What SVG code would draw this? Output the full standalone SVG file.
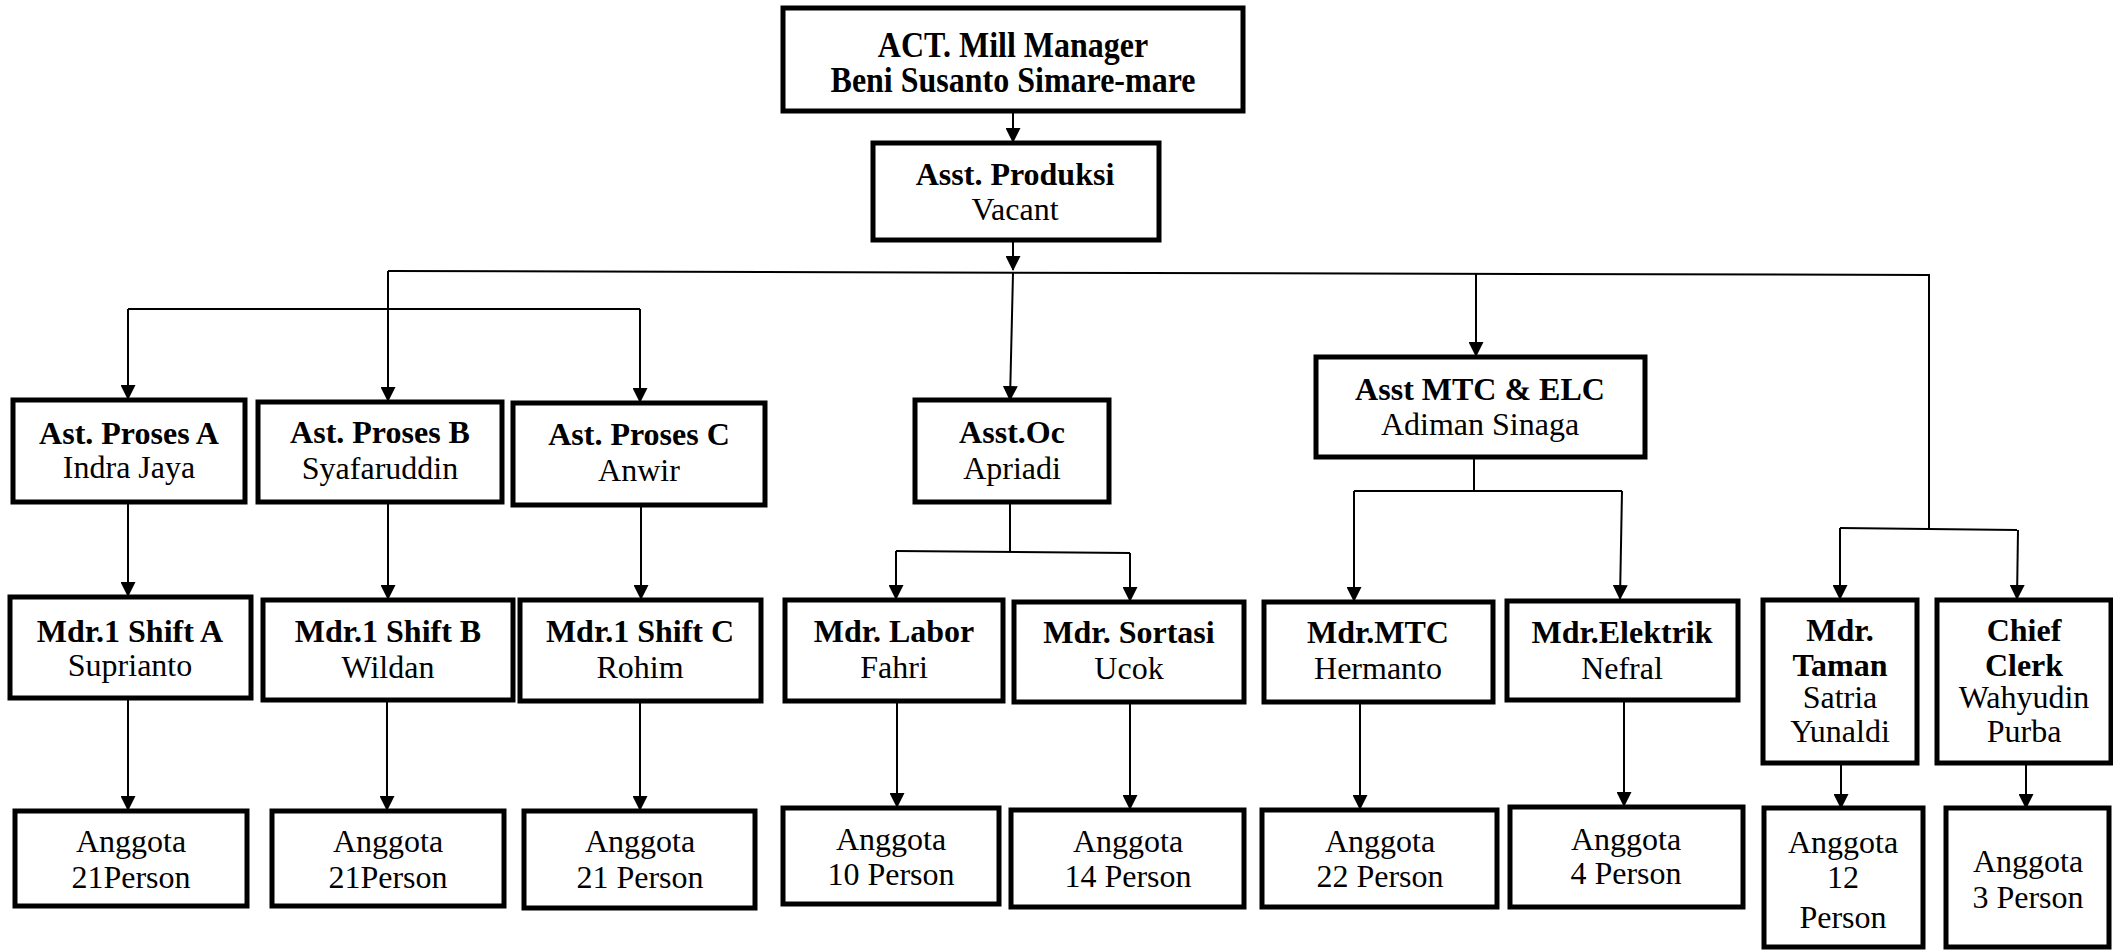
<svg xmlns="http://www.w3.org/2000/svg" width="2113" height="951" viewBox="0 0 2113 951">
<style>
.box{fill:#fff;stroke:#000;stroke-width:5}
.t{font-family:"Liberation Serif","Times New Roman",serif;font-size:32px;text-anchor:middle;fill:#000}
.b{font-weight:bold}
.c{stroke:#000;stroke-width:2;fill:none}
.a{marker-end:url(#arr)}
</style>
<defs>
<marker id="arr" viewBox="0 0 15 15" refX="14" refY="7.5" markerWidth="15" markerHeight="15" markerUnits="userSpaceOnUse" orient="auto">
<path d="M0,0 L15,7.5 L0,15 z" fill="#000"/>
</marker>
</defs>
<rect width="2113" height="951" fill="#fff"/>
<g id="connectors">
<line class="c a" x1="1013" y1="112" x2="1013" y2="142"/>
<line class="c a" x1="1013" y1="240" x2="1013" y2="270"/>
<polyline class="c" points="388,271 1929,275 1929,528"/>
<line class="c a" x1="388" y1="271" x2="388" y2="401"/>
<line class="c" x1="128" y1="309" x2="640" y2="309"/>
<line class="c a" x1="128" y1="309" x2="128" y2="399"/>
<line class="c a" x1="640" y1="309" x2="640" y2="402"/>
<line class="c a" x1="1013" y1="273" x2="1010" y2="400"/>
<line class="c a" x1="1476" y1="274" x2="1476" y2="356"/>
<line class="c" x1="1840" y1="528" x2="2017" y2="530"/>
<line class="c a" x1="1840" y1="528" x2="1840" y2="599"/>
<line class="c a" x1="2018" y1="530" x2="2017" y2="599"/>
<line class="c a" x1="128" y1="503" x2="128" y2="596"/>
<line class="c a" x1="388" y1="503" x2="388" y2="599"/>
<line class="c a" x1="641" y1="505" x2="641" y2="599"/>
<polyline class="c" points="1010,502 1010,552"/>
<line class="c" x1="896" y1="551" x2="1130" y2="553"/>
<line class="c a" x1="896" y1="551" x2="896" y2="599"/>
<line class="c a" x1="1130" y1="553" x2="1130" y2="601"/>
<polyline class="c" points="1474,457 1474,491"/>
<line class="c" x1="1354" y1="491" x2="1622" y2="491"/>
<line class="c a" x1="1354" y1="491" x2="1354" y2="601"/>
<line class="c a" x1="1622" y1="491" x2="1620" y2="599"/>
<line class="c a" x1="128" y1="698" x2="128" y2="810"/>
<line class="c a" x1="387" y1="700" x2="387" y2="810"/>
<line class="c a" x1="640" y1="701" x2="640" y2="810"/>
<line class="c a" x1="897" y1="701" x2="897" y2="807"/>
<line class="c a" x1="1130" y1="702" x2="1130" y2="809"/>
<line class="c a" x1="1360" y1="702" x2="1360" y2="809"/>
<line class="c a" x1="1624" y1="700" x2="1624" y2="806"/>
<line class="c a" x1="1841" y1="763" x2="1841" y2="808"/>
<line class="c a" x1="2026" y1="763" x2="2026" y2="808"/>
</g>
<g id="mill-manager"><rect class="box" x="783" y="8" width="460" height="103"/>
<text class="t b" transform="translate(1013,57) scale(1,1.1)">ACT. Mill Manager</text><text class="t b" transform="translate(1013,92) scale(1,1.1)">Beni Susanto Simare-mare</text></g>
<g id="asst-produksi"><rect class="box" x="873" y="143" width="286" height="97"/>
<text class="t b" x="1015" y="185">Asst. Produksi</text><text class="t" x="1015" y="220">Vacant</text></g>
<g id="ast-proses-a"><rect class="box" x="13" y="400" width="232" height="102"/>
<text class="t b" x="129" y="444">Ast. Proses A</text><text class="t" x="129" y="478">Indra Jaya</text></g>
<g id="ast-proses-b"><rect class="box" x="258" y="402" width="244" height="100"/>
<text class="t b" x="380" y="443">Ast. Proses B</text><text class="t" x="380" y="479">Syafaruddin</text></g>
<g id="ast-proses-c"><rect class="box" x="513" y="403" width="252" height="102"/>
<text class="t b" x="639" y="445">Ast. Proses C</text><text class="t" x="639" y="481">Anwir</text></g>
<g id="asst-oc"><rect class="box" x="915" y="400" width="194" height="102"/>
<text class="t b" x="1012" y="443">Asst.Oc</text><text class="t" x="1012" y="479">Apriadi</text></g>
<g id="asst-mtc-elc"><rect class="box" x="1316" y="357" width="329" height="100"/>
<text class="t b" x="1480" y="400">Asst MTC &amp; ELC</text><text class="t" x="1480" y="435">Adiman Sinaga</text></g>
<g id="mdr-shift-a"><rect class="box" x="10" y="597" width="241" height="101"/>
<text class="t b" x="130" y="642">Mdr.1 Shift A</text><text class="t" x="130" y="676">Suprianto</text></g>
<g id="mdr-shift-b"><rect class="box" x="263" y="600" width="250" height="100"/>
<text class="t b" x="388" y="642">Mdr.1 Shift B</text><text class="t" x="388" y="678">Wildan</text></g>
<g id="mdr-shift-c"><rect class="box" x="520" y="600" width="241" height="101"/>
<text class="t b" x="640" y="642">Mdr.1 Shift C</text><text class="t" x="640" y="678">Rohim</text></g>
<g id="mdr-labor"><rect class="box" x="785" y="600" width="218" height="101"/>
<text class="t b" x="894" y="642">Mdr. Labor</text><text class="t" x="894" y="678">Fahri</text></g>
<g id="mdr-sortasi"><rect class="box" x="1014" y="602" width="230" height="100"/>
<text class="t b" x="1129" y="643">Mdr. Sortasi</text><text class="t" x="1129" y="679">Ucok</text></g>
<g id="mdr-mtc"><rect class="box" x="1264" y="602" width="229" height="100"/>
<text class="t b" x="1378" y="643">Mdr.MTC</text><text class="t" x="1378" y="679">Hermanto</text></g>
<g id="mdr-elektrik"><rect class="box" x="1507" y="601" width="231" height="99"/>
<text class="t b" x="1622" y="643">Mdr.Elektrik</text><text class="t" x="1622" y="679">Nefral</text></g>
<g id="mdr-taman"><rect class="box" x="1763" y="600" width="154" height="163"/>
<text class="t b" x="1840" y="641">Mdr.</text><text class="t b" x="1840" y="676">Taman</text><text class="t" x="1840" y="708">Satria</text><text class="t" x="1840" y="742">Yunaldi</text></g>
<g id="chief-clerk"><rect class="box" x="1937" y="600" width="174" height="163"/>
<text class="t b" x="2024" y="641">Chief</text><text class="t b" x="2024" y="676">Clerk</text><text class="t" x="2024" y="708">Wahyudin</text><text class="t" x="2024" y="742">Purba</text></g>
<g id="anggota-a"><rect class="box" x="15" y="811" width="232" height="95"/>
<text class="t" x="131" y="852">Anggota</text><text class="t" x="131" y="888">21Person</text></g>
<g id="anggota-b"><rect class="box" x="272" y="811" width="232" height="95"/>
<text class="t" x="388" y="852">Anggota</text><text class="t" x="388" y="888">21Person</text></g>
<g id="anggota-c"><rect class="box" x="524" y="811" width="231" height="97"/>
<text class="t" x="640" y="852">Anggota</text><text class="t" x="640" y="888">21 Person</text></g>
<g id="anggota-labor"><rect class="box" x="783" y="808" width="216" height="96"/>
<text class="t" x="891" y="850">Anggota</text><text class="t" x="891" y="885">10 Person</text></g>
<g id="anggota-sortasi"><rect class="box" x="1011" y="810" width="233" height="97"/>
<text class="t" x="1128" y="852">Anggota</text><text class="t" x="1128" y="887">14 Person</text></g>
<g id="anggota-mtc"><rect class="box" x="1262" y="810" width="235" height="97"/>
<text class="t" x="1380" y="852">Anggota</text><text class="t" x="1380" y="887">22 Person</text></g>
<g id="anggota-elektrik"><rect class="box" x="1510" y="807" width="233" height="100"/>
<text class="t" x="1626" y="850">Anggota</text><text class="t" x="1626" y="884">4 Person</text></g>
<g id="anggota-taman"><rect class="box" x="1764" y="808" width="159" height="139"/>
<text class="t" x="1843" y="853">Anggota</text><text class="t" x="1843" y="888">12</text><text class="t" x="1843" y="928">Person</text></g>
<g id="anggota-clerk"><rect class="box" x="1946" y="808" width="163" height="139"/>
<text class="t" x="2028" y="872">Anggota</text><text class="t" x="2028" y="908">3 Person</text></g>
</svg>
